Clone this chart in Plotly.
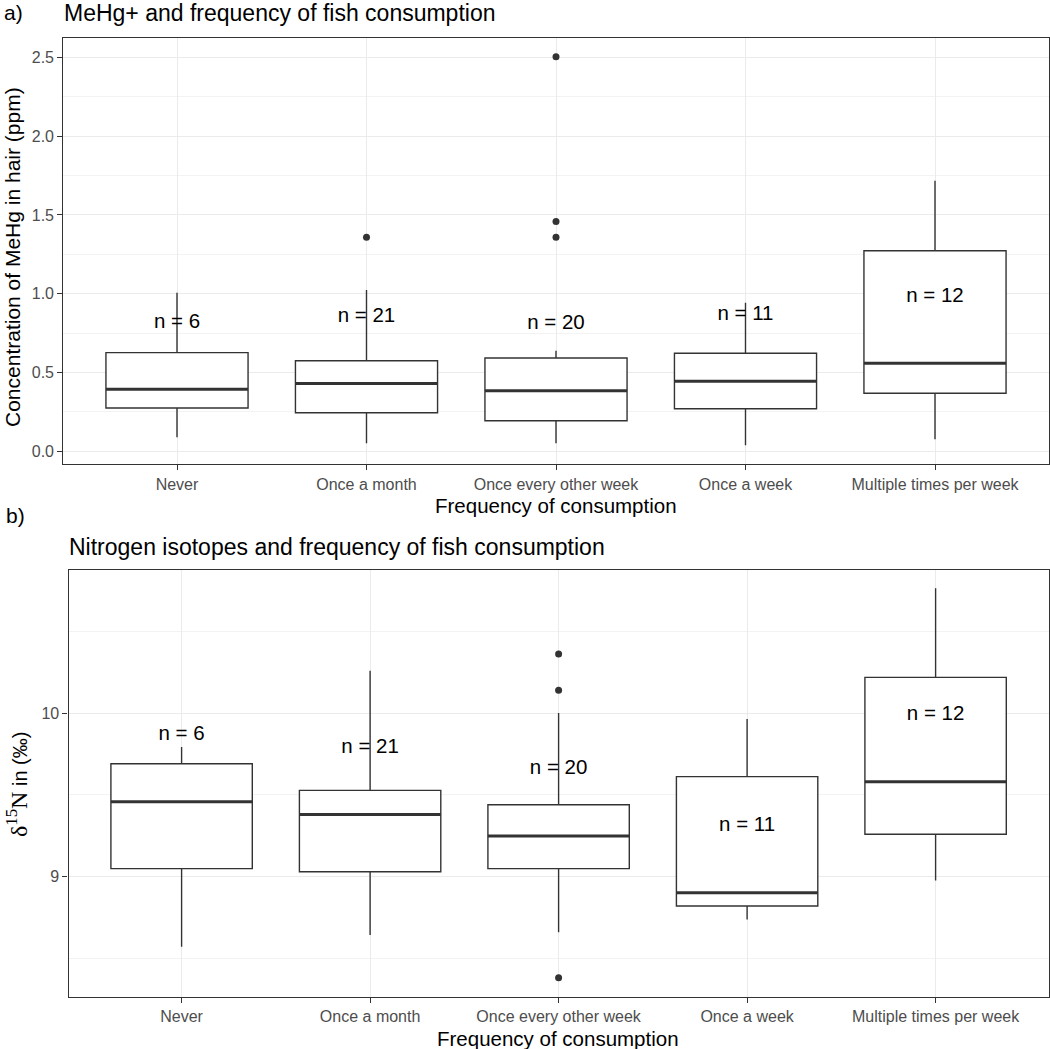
import plotly.graph_objects as go

categories = ["Never", "Once a month", "Once every other week", "Once a week", "Multiple times per week"]
n_labels = ["n = 6", "n = 21", "n = 20", "n = 11", "n = 12"]

# Panel a: MeHg (ppm)
a_lower = [0.089, 0.051, 0.051, 0.038, 0.076]
a_q1 = [0.275, 0.245, 0.194, 0.270, 0.368]
a_median = [0.393, 0.431, 0.385, 0.444, 0.558]
a_q3 = [0.626, 0.575, 0.592, 0.622, 1.273]
a_upper = [1.006, 1.023, 0.638, 0.943, 1.717]
a_out_cat = [2, 3, 3, 3]
a_out_val = [1.358, 2.504, 1.459, 1.358]
a_label_y = [0.816, 0.850, 0.808, 0.865, 0.981]

# Panel b: delta15N (permil)
b_lower = [8.571, 8.642, 8.659, 8.738, 8.976]
b_q1 = [9.049, 9.030, 9.049, 8.820, 9.259]
b_median = [9.459, 9.381, 9.249, 8.901, 9.581]
b_q3 = [9.691, 9.528, 9.440, 9.612, 10.220]
b_upper = [9.794, 10.261, 10.002, 9.965, 10.765]
b_out_cat = [3, 3, 3]
b_out_val = [10.363, 10.141, 8.381]
b_label_y = [9.867, 9.790, 9.659, 9.312, 9.990]

W, H = 1050, 1049
FONT = "Liberation Sans"
DARK = "#333333"
BOXW = 0.75

xpos = list(range(1, len(categories) + 1))

fig = go.Figure()


def add_panel(xa, ya, lower, q1, med, q3, upper, out_cat, out_val, lab_y):
    fig.add_trace(go.Box(
        x=xpos, q1=q1, median=med, q3=q3, lowerfence=lower, upperfence=upper,
        width=BOXW, whiskerwidth=0, fillcolor="white", boxpoints=False,
        line=dict(color=DARK, width=1.4), xaxis=xa, yaxis=ya,
        showlegend=False, hoverinfo="skip"))
    mx, my = [], []
    for x, m in zip(xpos, med):
        mx += [x - BOXW / 2, x + BOXW / 2, None]
        my += [m, m, None]
    fig.add_trace(go.Scatter(x=mx, y=my, mode="lines", line=dict(color=DARK, width=3),
                             xaxis=xa, yaxis=ya, showlegend=False, hoverinfo="skip"))
    fig.add_trace(go.Scatter(x=out_cat, y=out_val, mode="markers",
                             marker=dict(color=DARK, size=7), xaxis=xa, yaxis=ya,
                             showlegend=False, hoverinfo="skip"))
    fig.add_trace(go.Scatter(x=xpos, y=lab_y, mode="text", text=n_labels,
                             textfont=dict(family=FONT, size=20.5, color="black"),
                             textposition="middle center", xaxis=xa, yaxis=ya,
                             showlegend=False, hoverinfo="skip"))


add_panel("x", "y", a_lower, a_q1, a_median, a_q3, a_upper, a_out_cat, a_out_val, a_label_y)
add_panel("x2", "y2", b_lower, b_q1, b_median, b_q3, b_upper, b_out_cat, b_out_val, b_label_y)

xcommon = dict(tickmode="array", tickvals=xpos, ticktext=categories, range=[0.4, 5.6],
               showline=True, mirror=True, linecolor=DARK, linewidth=1.2,
               ticks="outside", ticklen=5, tickcolor=DARK, tickwidth=1.2,
               tickfont=dict(family=FONT, size=16, color="#4D4D4D"),
               showgrid=True, gridcolor="#EBEBEB", gridwidth=1.2, zeroline=False)
ycommon = dict(showline=True, mirror=True, linecolor=DARK, linewidth=1.2,
               ticks="outside", ticklen=5, tickcolor=DARK, tickwidth=1.2,
               tickfont=dict(family=FONT, size=16, color="#4D4D4D"),
               showgrid=True, gridcolor="#EBEBEB", gridwidth=1.2, zeroline=False)

fig.update_layout(
    width=W, height=H, autosize=False,
    margin=dict(l=0, r=0, t=0, b=0),
    paper_bgcolor="white", plot_bgcolor="white",
    showlegend=False,
    xaxis=dict(domain=[63.3 / W, 1048.7 / W], anchor="y", **xcommon),
    yaxis=dict(domain=[1 - 464.3 / H, 1 - 38.3 / H], anchor="x", range=[-0.0825, 2.621],
               tickvals=[0.0, 0.5, 1.0, 1.5, 2.0, 2.5], ticktext=["0.0", "0.5", "1.0", "1.5", "2.0", "2.5"],
               minor=dict(dtick=0.25, tick0=0, showgrid=True, gridcolor="#F3F3F3", gridwidth=0.8, ticks=""),
               **ycommon),
    xaxis2=dict(domain=[68.5 / W, 1048.7 / W], anchor="y2", **xcommon),
    yaxis2=dict(domain=[1 - 996.7 / H, 1 - 570 / H], anchor="x2", range=[8.265, 10.877],
                tickvals=[9, 10], ticktext=["9", "10"],
                minor=dict(dtick=0.5, tick0=0, showgrid=True, gridcolor="#F3F3F3", gridwidth=0.8, ticks=""),
                **ycommon),
)


def ann(text, xpx, ypx, size=20, xanchor="left", angle=0, color="black"):
    fig.add_annotation(text=text, x=xpx / W, y=1 - ypx / H, xref="paper", yref="paper",
                       xanchor=xanchor, yanchor="middle", showarrow=False, textangle=angle,
                       font=dict(family=FONT, size=size, color=color))


ann("a)", 2, 13, size=21)
ann("MeHg+ and frequency of fish consumption", 62, 13, size=23)
ann("Frequency of consumption", 556, 506, size=20.5, xanchor="center")
ann("Concentration of MeHg in hair (ppm)", 12, 257, size=21, xanchor="center", angle=-90)

ann("b)", 4, 515, size=21)
ann("Nitrogen isotopes and frequency of fish consumption", 67, 547, size=23)
ann("Frequency of consumption", 558, 1038, size=20.5, xanchor="center")
ann('<span style="font-family:Liberation Serif;font-size:24px">δ<sup>15</sup>N</span> in (‰)',
    17, 785, size=20, xanchor="center", angle=-90)

fig.write_html("out.html", config={"displayModeBar": False},
               post_script="document.body.style.margin='0';document.body.style.overflow='hidden';")
